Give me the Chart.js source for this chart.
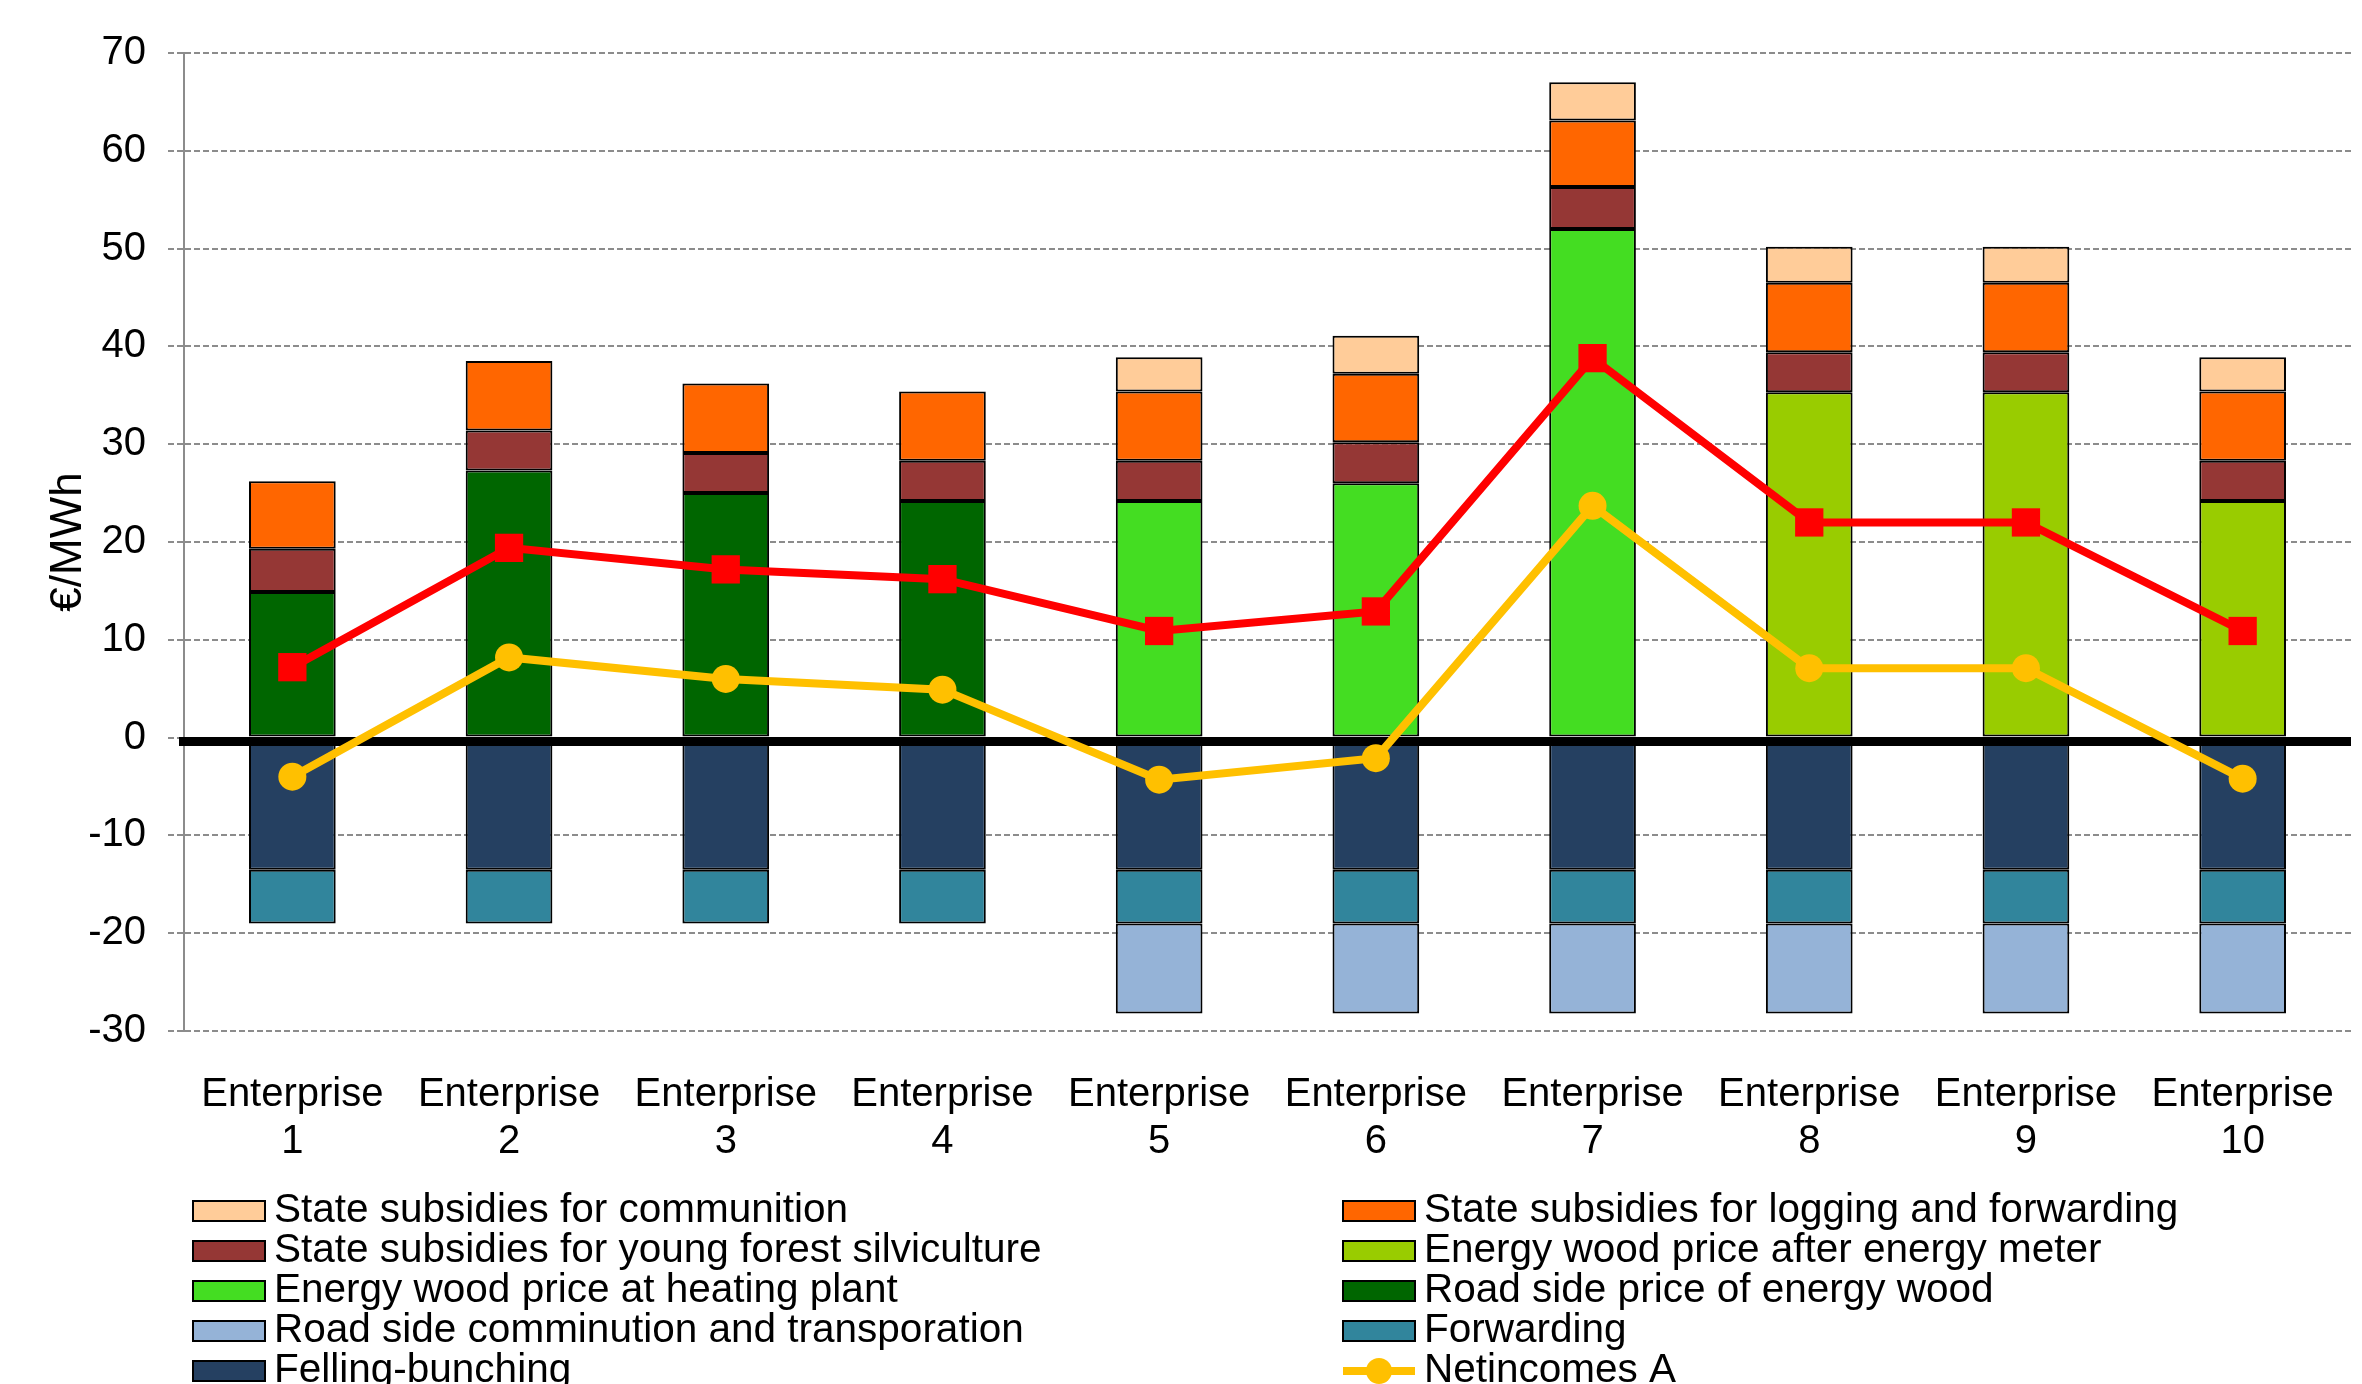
<!DOCTYPE html>
<html>
<head>
<meta charset="utf-8">
<script src="https://cdn.jsdelivr.net/npm/chart.js@4/dist/chart.umd.min.js"></script>
<style>
  html, body { margin: 0; padding: 0; background: #ffffff; overflow: hidden; }
  #wrap { position: relative; width: 2362px; height: 1384px; }
</style>
</head>
<body>
<div id="wrap"><canvas id="c" width="2362" height="1384"></canvas></div>
<script>
// Enterprises on the category axis
const categories = [
  ['Enterprise', '1'], ['Enterprise', '2'], ['Enterprise', '3'], ['Enterprise', '4'], ['Enterprise', '5'],
  ['Enterprise', '6'], ['Enterprise', '7'], ['Enterprise', '8'], ['Enterprise', '9'], ['Enterprise', '10']
];

// Income components, €/MWh
const roadSidePrice      = [14.9, 27.3, 25.0, 24.2, null, null, null, null, null, null];
const heatingPlantPrice  = [null, null, null, null, 24.2, 26.0, 52.0, null, null, null];
const afterMeterPrice    = [null, null, null, null, null, null, null, 35.3, 35.3, 24.2];
const youngForestSubsidy = [4.4, 4.1, 4.1, 4.1, 4.1, 4.2, 4.3, 4.1, 4.1, 4.1];
const loggingSubsidy     = [6.9, 7.1, 7.1, 7.1, 7.1, 7.0, 6.8, 7.1, 7.1, 7.1];
const communitionSubsidy = [null, null, null, null, 3.5, 3.9, 3.9, 3.7, 3.7, 3.5];

// Cost components, €/MWh
const fellingBunching    = [-13.5, -13.5, -13.5, -13.5, -13.5, -13.5, -13.5, -13.5, -13.5, -13.5];
const forwarding         = [-5.5, -5.5, -5.5, -5.5, -5.5, -5.5, -5.5, -5.5, -5.5, -5.5];
const comminutionTransport = [null, null, null, null, -9.2, -9.2, -9.2, -9.2, -9.2, -9.2];

// Net incomes, €/MWh
const netIncomesA = [-4.0, 8.2, 6.0, 4.9, -4.3, -2.1, 23.7, 7.1, 7.1, -4.2];
const netIncomesB = [7.2, 19.4, 17.2, 16.2, 10.9, 12.9, 38.8, 22.0, 22.0, 10.9];

// Value axis
const yMin = -30, yMax = 70, yStep = 10;

const FONT = "'Liberation Sans', Arial, Helvetica, sans-serif";

function barSet(label, data, color) {
  return {
    type: 'bar', label, data, stack: 'components', order: 1,
    backgroundColor: color, borderColor: '#000000', borderWidth: 2, borderSkipped: false,
    barPercentage: 0.4, categoryPercentage: 1.0
  };
}

const datasets = [
  barSet('Road side price of energy wood', roadSidePrice, '#006600'),
  barSet('Energy wood price at heating plant', heatingPlantPrice, '#44DD22'),
  barSet('Energy wood price after energy meter', afterMeterPrice, '#99CC00'),
  barSet('State subsidies for young forest silviculture', youngForestSubsidy, '#953735'),
  barSet('State subsidies for logging and forwarding', loggingSubsidy, '#FF6600'),
  barSet('State subsidies for communition', communitionSubsidy, '#FFCC99'),
  barSet('Felling-bunching', fellingBunching, '#254061'),
  barSet('Forwarding', forwarding, '#31859C'),
  barSet('Road side comminution and transporation', comminutionTransport, '#95B3D7'),
  {
    type: 'line', label: 'Netincomes A', data: netIncomesA, stack: 'netA', order: 0,
    borderColor: '#FFC000', backgroundColor: '#FFC000', borderWidth: 8, tension: 0, fill: false,
    pointStyle: 'circle', pointRadius: 14, pointBorderWidth: 0, pointBackgroundColor: '#FFC000'
  },
  {
    type: 'line', label: 'Netincomes B', data: netIncomesB, stack: 'netB', order: 0,
    borderColor: '#FF0000', backgroundColor: '#FF0000', borderWidth: 8, tension: 0, fill: false,
    pointStyle: 'rect', pointRadius: 20, pointBorderWidth: 0, pointBackgroundColor: '#FF0000'
  }
];

// Legend entries, two columns, row by row
const legendOrder = [5, 4, 3, 2, 1, 0, 8, 7, 6, 9, 10];

// Heavy black line along the zero level, painted over the bars and under the lines
const zeroLinePlugin = {
  id: 'zeroLine',
  afterDatasetDraw(chart, args) {
    if (args.index !== 0) return;
    const y = chart.scales.y.getPixelForValue(0) + 4;
    const ctx = chart.ctx;
    ctx.save();
    ctx.strokeStyle = '#000000';
    ctx.lineWidth = 9;
    ctx.beginPath();
    ctx.moveTo(chart.chartArea.left - 5, y);
    ctx.lineTo(chart.chartArea.right, y);
    ctx.stroke();
    ctx.restore();
  }
};

// Two-column legend under the axis labels
const columnLegendPlugin = {
  id: 'columnLegend',
  afterDraw(chart) {
    const ctx = chart.ctx;
    const colX = [193, 1343];
    const firstRow = 1211, rowGap = 40.0;
    const boxW = 72, boxH = 20, textGap = 9;
    ctx.save();
    ctx.font = '40.5px ' + FONT;
    ctx.textBaseline = 'middle';
    ctx.textAlign = 'left';
    legendOrder.forEach((di, k) => {
      const ds = chart.data.datasets[di];
      const row = Math.floor(k / 2), col = k % 2;
      const cy = firstRow + row * rowGap;
      if (cy - 22 > chart.height) return;
      const x = colX[col];
      if (ds.type === 'line') {
        ctx.strokeStyle = ds.borderColor;
        ctx.lineWidth = 8;
        ctx.beginPath();
        ctx.moveTo(x, cy);
        ctx.lineTo(x + boxW, cy);
        ctx.stroke();
        ctx.fillStyle = ds.pointBackgroundColor;
        if (ds.pointStyle === 'rect') {
          ctx.fillRect(x + boxW / 2 - 13, cy - 13, 26, 26);
        } else {
          ctx.beginPath();
          ctx.arc(x + boxW / 2, cy, 13, 0, Math.PI * 2);
          ctx.fill();
        }
      } else {
        ctx.fillStyle = ds.backgroundColor;
        ctx.fillRect(x, cy - boxH / 2, boxW, boxH);
        ctx.strokeStyle = '#000000';
        ctx.lineWidth = 2;
        ctx.strokeRect(x, cy - boxH / 2, boxW, boxH);
      }
      ctx.fillStyle = '#000000';
      ctx.fillText(ds.label, x + boxW + textGap, cy);
    });
    ctx.restore();
  }
};

new Chart(document.getElementById('c'), {
  data: { labels: categories, datasets },
  plugins: [zeroLinePlugin, columnLegendPlugin],
  options: {
    responsive: false,
    animation: false,
    devicePixelRatio: 1,
    layout: { autoPadding: false, padding: { top: 53, right: 11, left: 0, bottom: 0 } },
    plugins: {
      legend: { display: false },
      tooltip: { enabled: false },
      title: { display: false }
    },
    scales: {
      x: {
        type: 'category',
        stacked: true,
        // tick marks are not drawn; tickLength only spaces the labels below the plot
        grid: { display: false, drawTicks: true, tickLength: 40 },
        border: { display: false },
        ticks: {
          color: '#000000',
          font: { family: FONT, size: 40, lineHeight: 1.175 },
          padding: 0,
          maxRotation: 0,
          autoSkip: false
        },
        afterFit(scale) {
          scale.height = 353;
        }
      },
      y: {
        stacked: true,
        min: yMin, max: yMax,
        ticks: {
          stepSize: yStep,
          color: '#000000',
          font: { family: FONT, size: 40 },
          padding: 22
        },
        grid: {
          color: '#8C8C8C', lineWidth: 2, tickLength: 16, drawTicks: true,
          tickColor: '#8C8C8C', tickWidth: 2, tickBorderDash: [6, 3]
        },
        border: { display: true, color: '#8C8C8C', width: 2, dash: [6, 3] },
        title: {
          display: true, text: '€/MWh', color: '#000000',
          font: { family: FONT, size: 44, lineHeight: 1.2 },
          padding: { top: 42, bottom: 0 }
        },
        afterFit(scale) { scale.width = 184; }
      }
    }
  }
});
</script>
</body>
</html>
